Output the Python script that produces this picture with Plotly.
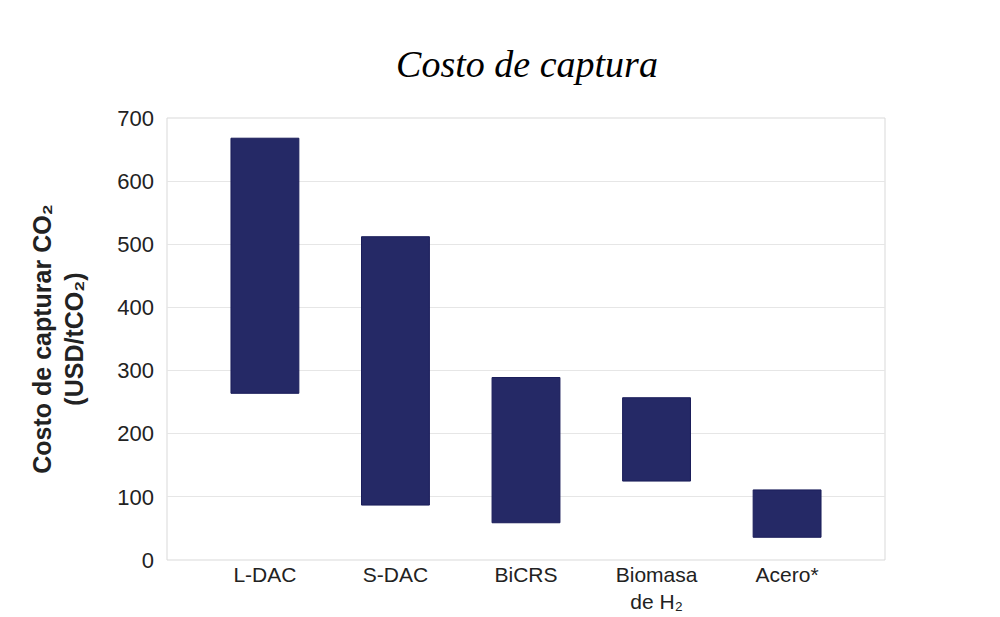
import plotly.graph_objects as go

# Rango de costo de captura por tecnología (USD/tCO2)
categorias = ["L-DAC", "S-DAC", "BiCRS", "Biomasa<br>de H₂", "Acero*"]
costo_min = [264, 87, 59, 125, 36]
costo_max = [668, 512, 289, 257, 111]

alto = [hi - lo for hi, lo in zip(costo_max, costo_min)]

fig = go.Figure()

fig.add_trace(go.Bar(x=categorias, y=alto, base=costo_min, width=0.52,
                     marker=dict(color='#252966', line=dict(color='#1a1d5a', width=1))))

fig.update_layout(
    width=1000, height=617,
    title=dict(text='<i>Costo de captura</i>', x=0.519, xanchor='center', y=0.91, yanchor='middle',
               font=dict(family='Liberation Serif', size=38, color='black')),
    paper_bgcolor='white', plot_bgcolor='white',
    margin=dict(l=159, r=123, t=110, b=63),
    showlegend=False,
    font=dict(family='Liberation Sans', color='#222222'),
    xaxis=dict(range=[-0.75, 4.75], tickfont=dict(size=21), showline=False,
               ticks=''),
    yaxis=dict(range=[0, 700], dtick=100, tickfont=dict(size=22), gridcolor='#e6e6e6',
               zeroline=False, ticks='', ticklabelstandoff=12,
               title=dict(text='<b>Costo de capturar CO₂<br>(USD/tCO₂)</b>',
                          font=dict(size=25, color='#222222'), standoff=26)),
)

# marco del área de trazado
fig.add_shape(type='rect', xref='paper', yref='paper', x0=0, y0=0, x1=1, y1=1,
              line=dict(color='#d9d9d9', width=1), layer='below')

fig.write_html("out.html")
